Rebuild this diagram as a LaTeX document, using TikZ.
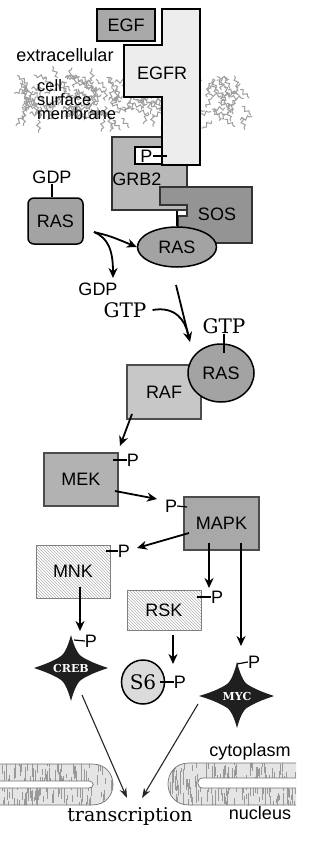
\documentclass[tikz,border=0pt]{standalone}
\usepackage{fontspec}
\setsansfont{Liberation Sans}
\newfontfamily\djserif{DejaVu Serif}
\usetikzlibrary{arrows.meta,patterns,decorations.pathmorphing,shapes.geometric}
\tikzset{
  lab/.style={font=\sffamily\fontsize{18}{20}\selectfont, inner sep=0pt},
  serifbig/.style={font=\djserif\fontsize{20}{22}\selectfont, inner sep=0pt},
  startext/.style={font=\djserif\bfseries\fontsize{11}{12}\selectfont, text=white, inner sep=0pt},
  arr/.style={line width=1.8pt, -{Stealth[length=10pt,width=9pt]}},
  thinarr/.style={line width=1.1pt, black!85, -{Stealth[length=10pt,width=7pt]}},
  tickline/.style={line width=1.2pt},
  thickbox/.style={draw=black, line width=1.6pt, inner sep=0pt},
  kbox/.style={draw=black!70, line width=1.1pt, inner sep=0pt, lab},
  hbox/.style={draw=black!50, line width=0.9pt, preaction={fill=white}, pattern=north west lines, pattern color=black!30, inner sep=0pt, lab},
  squiggle/.style={black!38, line width=1pt, line cap=round, decorate, decoration={snake,amplitude=1.8pt,segment length=6pt}},
  nucfill/.style={black!40, line width=0.9pt},
  nucline/.style={draw=black!55, line width=0.7pt},
  starfill/.style={fill=black!88}
}
\begin{document}
\begin{tikzpicture}[x=1pt,y=-1pt]
\useasboundingbox (0,0) rectangle (309,845);
\fill[white] (0,0) rectangle (309,845);

% ---- cell surface membrane texture
\pgfmathsetseed{11}
\foreach \i in {1,...,230}{
  \pgfmathsetmacro{\xx}{22+222*rnd}
  \pgfmathsetmacro{\yy}{77+44*rnd}
  \pgfmathsetmacro{\aa}{360*rnd}
  \draw[squiggle] (\xx,\yy) -- ++(\aa:12);
}
\node[lab, anchor=west, align=left, font=\sffamily\fontsize{16.5}{14}\selectfont] (memb) at (37,100) {cell\\surface\\membrane};
\node[lab] (extra) at (65,55) {extracellular};

% ---- EGF
\node[thickbox, fill=black!34, minimum width=58, minimum height=32, lab] (egf) at (126,25) {EGF};

% ---- GRB2 and SOS
\node[thickbox, line width=1.4pt, draw=black!80, fill=black!28, minimum width=75, minimum height=73] (grb2) at (149.5,173.5) {};
\node[lab] (grb2lab) at (137,179) {GRB2};
\draw[fill=black!42, draw=black!80, line width=1.4pt]
  (160,187) -- (252,187) -- (252,243) -- (178,243) -- (178,216) -- (187,216) -- (187,205) -- (160,205) -- cycle;
\node[lab] (sos) at (217,214) {SOS};

% ---- EGFR
\draw[fill=black!7, draw=black, line width=1.8pt]
  (162,9) -- (200,9) -- (200,165) -- (162,165) -- (162,97) -- (124,97) -- (124,45) -- (162,45) -- cycle;
\node[lab] (egfr) at (162,73) {EGFR};
\node[draw=black, line width=1.3pt, fill=white, minimum width=27, minimum height=17, inner sep=0pt] (pbox) at (148.5,155.5) {};
\node[lab] (pegfr) at (146.5,156) {P};
\coordinate (pegfrend) at (167,156);
\draw[tickline] (pegfr.east) -- (pegfrend);

% ---- RAS (GDP)
\node[lab] (gdp1) at (52,177) {GDP};
\node[draw=black, line width=1.5pt, rounded corners=6pt, fill=black!36, minimum width=55, minimum height=46, lab] (rasbox) at (55.5,221) {RAS};
\draw[line width=1.5pt] (gdp1.south) -- (gdp1.south |- rasbox.north);

% ---- RAS at membrane
\node[ellipse, draw=black, line width=1.5pt, fill=black!36, minimum width=79, minimum height=40, inner sep=0pt, lab] (rasm) at (177,247) {RAS};
\draw[line width=1.2pt] (rasm.north) -- (rasm.north |- grb2.south);

\coordinate (c1) at (94,232);
\coordinate (c2) at (113,278);
\draw[arr] (c1) .. controls (110,236) .. (rasm.west);
\draw[arr] (c1) .. controls (108,238) and (113,250) .. (c2);
\node[lab] (gdp2) at (98,289) {GDP};

% ---- GTP loading
\node[serifbig] (gtp1) at (125,310) {GTP};
\coordinate (c3) at (176,285);
\coordinate (c4) at (190,342);
\coordinate (c5) at (188,334);
\draw[line width=1.8pt] ([xshift=6pt]gtp1.east) .. controls (175,306) and (185,320) .. (c5);
\draw[arr] (c3) -- (c4);

% ---- RAF and RAS-GTP
\node[kbox, fill=black!22, minimum width=74, minimum height=54] (raf) at (164,392) {RAF};
\node[ellipse, draw=black, line width=1.5pt, fill=black!36, minimum width=66, minimum height=58, inner sep=0pt, lab] (rasc) at (221,373) {RAS};
\node[serifbig] (gtp2) at (224,326) {GTP};
\coordinate (gtptick) at (224,353);
\draw[line width=1.5pt] (gtp2.south) -- (gtptick);

% ---- MEK
\node[kbox, fill=black!30, minimum width=74, minimum height=53] (mek) at (81,479.5) {MEK};
\coordinate (r1) at (132,414);
\coordinate (r2) at (120,446);
\draw[arr] (r1) -- (r2);
\node[lab] (pmek) at (133,460) {P};
\coordinate (tm) at (113,460);
\draw[tickline] (tm) -- (pmek.west);

% ---- MAPK
\node[kbox, fill=black!34, minimum width=75, minimum height=53] (mapk) at (221.5,523.5) {MAPK};
\node[lab] (pmapk) at (171,506) {P};
\coordinate (tmk) at (187,507);
\draw[tickline] (pmapk.east) -- (tmk);
\coordinate (m1) at (115,491);
\coordinate (m2) at (157,499);
\draw[arr] (m1) -- (m2);

% ---- MNK
\node[hbox, minimum width=74, minimum height=53] (mnk) at (73,571.5) {MNK};
\node[lab] (pmnk) at (124,551) {P};
\coordinate (tn) at (106,551);
\draw[tickline] (tn) -- (pmnk.west);
\coordinate (k1) at (189,533);
\coordinate (k2) at (137,548);
\draw[arr] (k1) -- (k2);

% ---- RSK
\node[hbox, minimum width=74, minimum height=40] (rsk) at (164,610) {RSK};
\node[lab] (prsk) at (217,597) {P};
\coordinate (tr) at (197,597);
\draw[tickline] (tr) -- (prsk.west);
\coordinate (s1) at (209,543);
\coordinate (s2) at (209,588);
\draw[arr] (s1) -- (s2);

% ---- MAPK to MYC
\coordinate (y1) at (241,543);
\coordinate (y2) at (241,646);
\draw[arr] (y1) -- (y2);

% ---- MNK to CREB
\coordinate (n1) at (80,587);
\coordinate (n2) at (80,631);
\draw[arr] (n1) -- (n2);

% ---- CREB star
\begin{scope}[shift={(71,668)}]
  \fill[starfill] (0,-33) .. controls (4,-18) and (8,-12) .. (13,-10)
     .. controls (20,-6) and (28,-3) .. (37,0)
     .. controls (28,3) and (20,6) .. (13,10)
     .. controls (8,12) and (4,18) .. (0,33)
     .. controls (-4,18) and (-8,12) .. (-13,10)
     .. controls (-20,6) and (-28,3) .. (-37,0)
     .. controls (-28,-3) and (-20,-6) .. (-13,-10)
     .. controls (-8,-12) and (-4,-18) .. cycle;
\end{scope}
\node[startext] (creb) at (71,668) {CREB};
\node[lab] (pcreb) at (91,641) {P};
\coordinate (tc) at (74,640);
\draw[tickline] (tc) -- (pcreb.west);

% ---- S6
\coordinate (q1) at (173,635);
\coordinate (q2) at (173,664);
\draw[arr] (q1) -- (q2);
\node[ellipse, draw=black, line width=1.5pt, fill=black!14, minimum width=43, minimum height=44, inner sep=0pt, font=\djserif\fontsize{20}{22}\selectfont] (s6) at (143,682) {S6};
\node[lab] (ps6) at (180,682) {P};
\coordinate (ts) at (160,682);
\draw[tickline] (ts) -- (ps6.west);

% ---- MYC star
\begin{scope}[shift={(237,696)}]
  \fill[starfill] (0,-34) .. controls (4,-18) and (8,-12) .. (13,-10)
     .. controls (20,-6) and (28,-3) .. (37,0)
     .. controls (28,3) and (20,6) .. (13,10)
     .. controls (8,12) and (4,17) .. (0,32)
     .. controls (-4,17) and (-8,12) .. (-13,10)
     .. controls (-20,6) and (-28,3) .. (-38,0)
     .. controls (-28,-3) and (-20,-6) .. (-13,-10)
     .. controls (-8,-12) and (-4,-18) .. cycle;
\end{scope}
\node[startext] (myc) at (237,696) {MYC};
\node[lab] (pmyc) at (254,662) {P};
\coordinate (ty) at (237,664);
\draw[tickline] (ty) -- (pmyc.west);

% ---- nuclear envelope, left part
\begin{scope}
  \clip (0,764) -- (92,764) .. controls (120,764) and (120,805) .. (92,805) -- (0,805) -- cycle;
  \fill[black!10] (0,760) rectangle (120,810);
  \foreach \i in {1,...,150}{
    \pgfmathsetmacro{\xx}{118*rnd}
    \pgfmathsetmacro{\yy}{760+42*rnd}
    \pgfmathsetmacro{\ll}{4+12*rnd}
    \draw[nucfill] (\xx,\yy) -- ++(0,\ll);
  }
\end{scope}
\draw[nucline] (0,764) -- (92,764) .. controls (120,764) and (120,805) .. (92,805) -- (0,805);
\draw[nucline, fill=white] (0,781) -- (88,781) .. controls (95,781) and (95,788) .. (88,788) -- (0,788);

% ---- nuclear envelope, right part
\begin{scope}
  \clip (296,763) -- (189,763) .. controls (161,763) and (161,805) .. (189,805) -- (296,805) -- cycle;
  \fill[black!10] (160,760) rectangle (300,810);
  \foreach \i in {1,...,170}{
    \pgfmathsetmacro{\xx}{163+133*rnd}
    \pgfmathsetmacro{\yy}{759+42*rnd}
    \pgfmathsetmacro{\ll}{4+12*rnd}
    \draw[nucfill] (\xx,\yy) -- ++(0,\ll);
  }
\end{scope}
\draw[nucline] (296,763) -- (189,763) .. controls (161,763) and (161,805) .. (189,805) -- (296,805);
\draw[nucline, fill=white] (296,778) -- (203,778) .. controls (196,778) and (196,788) .. (203,788) -- (296,788);

\node[lab] (cyto) at (250,752) {cytoplasm};
\node[lab] (nucl) at (260,813) {nucleus};

% ---- transcription
\node[font=\djserif\fontsize{19}{21}\selectfont, inner sep=0pt] (trans) at (130,816) {transcription};
\coordinate (t1) at (127,798);
\coordinate (t2) at (142,798);
\coordinate (cs) at (82,695);
\coordinate (ms) at (198,704);
\draw[thinarr] (cs) -- (t1);
\draw[thinarr] (ms) -- (t2);
\end{tikzpicture}
\end{document}
